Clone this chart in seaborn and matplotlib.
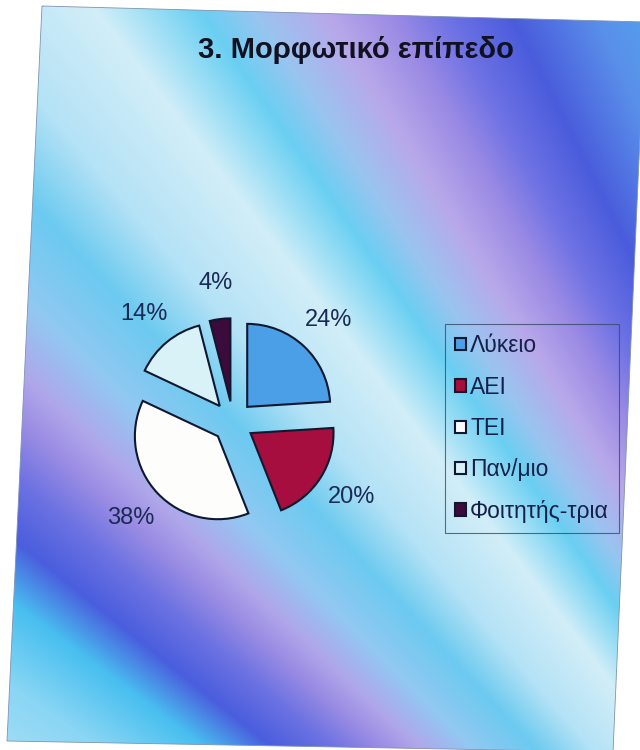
import numpy as np
import matplotlib
matplotlib.use("Agg")
import matplotlib.pyplot as plt
from matplotlib.patches import Polygon
from matplotlib.colors import to_rgb
import seaborn as sns

# ---- data -------------------------------------------------------------
title = "3. Μορφωτικό επίπεδο"
categories = ["Λύκειο", "ΑΕΙ", "ΤΕΙ", "Παν/μιο", "Φοιτητής-τρια"]
shares = [24, 20, 38, 14, 4]
slice_colors = ["#4a9fe6", "#a50e3e", "#fdfdfb", "#d8f2f8", "#3b0b3b"]

# ---- style ------------------------------------------------------------
sns.set_theme(style="white")
plt.rcParams["font.family"] = ["Liberation Sans", "DejaVu Sans"]
palette = sns.color_palette(slice_colors)

W, H = 640, 750
fig = plt.figure(figsize=(W / 100, H / 100), dpi=100)
fig.patch.set_facecolor("white")

# ---- fanned diagonal colour-band backdrop -----------------------------
bg = fig.add_axes([0, 0, 1, 1])
bg.set_xlim(0, W)
bg.set_ylim(H, 0)
bg.axis("off")

yy, xx = np.mgrid[0:H, 0:W] + 0.5
ang = np.degrees(np.arctan2(yy - 1562.0, xx - 1286.0))
band_stops = [
    (-150.0, "#b8e4f6"),
    (-145.5, "#8ad6f4"),
    (-143.0, "#48bff0"),
    (-141.2, "#4a5ede"),
    (-139.5, "#6c72e2"),
    (-138.0, "#9a8ce4"),
    (-136.8, "#b0a6ea"),
    (-135.0, "#92c8f2"),
    (-132.7, "#6ccaf0"),
    (-130.5, "#b4e2f6"),
    (-127.5, "#d2eef8"),
    (-125.0, "#6acff2"),
    (-123.6, "#9ac4f0"),
    (-121.8, "#b8a8ea"),
    (-120.0, "#9a8ae4"),
    (-118.5, "#6e72e4"),
    (-116.6, "#4a5cdc"),
    (-114.0, "#5a90ea"),
    (-110.0, "#4ab4f0"),
]
pos = [p for p, _ in band_stops]
cols = np.array([to_rgb(c) for _, c in band_stops])
rgb = np.stack([np.interp(ang, pos, cols[:, k]) for k in range(3)], axis=-1)

im = bg.imshow(rgb, extent=(0, W, H, 0), interpolation="bilinear")
sheet = Polygon([(42, 6), (645, 22), (613, 752), (7, 741)], closed=True,
                facecolor="none", edgecolor="#7f93b0", lw=0.6)
bg.add_patch(sheet)
im.set_clip_path(sheet)

# ---- exploded pie -----------------------------------------------------
r_px = 83.0
cx, cy = 233.0, 422.0
lim = 2.2
side = 2 * lim * r_px
ax = fig.add_axes([(cx - side / 2) / W, (H - cy - side / 2) / H, side / W, side / H])
ax.patch.set_alpha(0)

wedges, _, pct_texts = ax.pie(
    shares,
    explode=[0.25] * len(shares),
    colors=palette,
    startangle=90,
    counterclock=False,
    autopct="%1.0f%%",
    pctdistance=1.44,
    wedgeprops=dict(edgecolor="#101830", linewidth=1.5),
    textprops=dict(color="#1b2a55", fontsize=17),
)
ax.set_xlim(-lim, lim)
ax.set_ylim(-lim, lim)
ax.set_aspect("equal")
ax.axis("off")

# ---- title and legend -------------------------------------------------
fig.text(356 / W, 1 - 50 / H, title, ha="center", va="center",
         fontsize=21, fontweight="bold", color="#111122")

leg = fig.legend(
    wedges, categories,
    loc="upper left",
    bbox_to_anchor=(445 / W, 1 - 324 / H),
    bbox_transform=fig.transFigure,
    borderaxespad=0,
    frameon=True, fancybox=False,
    edgecolor="#3a4a6a", facecolor="none",
    fontsize=16.5,
    handlelength=0.45, handleheight=0.45, handletextpad=0.2,
    labelspacing=0.8, borderpad=0.45,
    labelcolor="#15204a",
)
leg.get_frame().set_linewidth(0.8)

fig.savefig("out.png", dpi=100)
